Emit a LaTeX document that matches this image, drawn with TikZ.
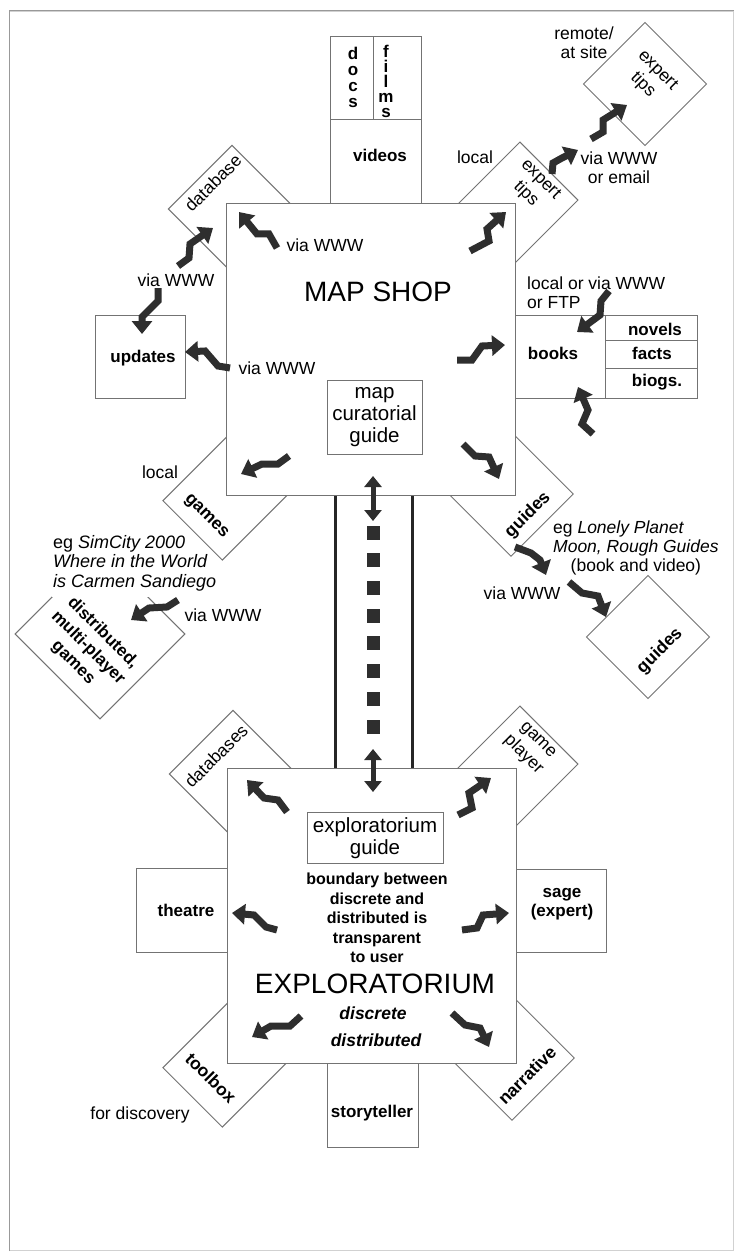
\documentclass[tikz,border=0pt]{standalone}
\usepackage{fontspec}
\setmainfont{Liberation Sans}
\usetikzlibrary{arrows.meta}
\definecolor{boxc}{gray}{0.45}
\definecolor{zzc}{gray}{0.18}
\definecolor{framec}{gray}{0.6}
\newcommand\ftreg{\fontsize{17.5}{19}\selectfont}
\newcommand\ftbold{\fontsize{17}{19}\selectfont\bfseries}
\newcommand\ftrot{\fontsize{17.5}{21}\selectfont}
\newcommand\ftbig{\fontsize{28}{32}\selectfont}
\newcommand\ftguide{\fontsize{20.5}{22}\selectfont}
\begin{document}
\begin{tikzpicture}[x=1pt,y=-1pt,
  bx/.style={draw=boxc,line width=1pt,fill=white,inner sep=0pt,anchor=north west},
  dia/.style={draw=boxc,line width=1pt,fill=white,inner sep=0pt,rotate=45,minimum size=#1pt},
  rdia/.style 2 args={draw=boxc,line width=1pt,fill=white,inner sep=0pt,rotate=45,minimum width=#1pt,minimum height=#2pt},
  lbl/.style={inner sep=0pt,align=center,font=\ftreg},
  blbl/.style={inner sep=0pt,align=center,font=\ftbold},
  rlbl/.style={inner sep=0pt,align=center,font=\ftrot},
  rblbl/.style={inner sep=0pt,align=center,font=\ftrot\bfseries},
  zz/.style={draw=zzc,line width=7pt,line join=miter,-{Triangle[width=20pt,length=13pt]}},
  dbl/.style={draw=zzc,line width=5pt,{Triangle[width=17pt,length=11pt]}-{Triangle[width=17pt,length=11pt]}},
  sqr/.style={fill=zzc,inner sep=0pt,minimum width=13pt,minimum height=14pt},
  conn/.style={draw=black!85,line width=3pt}]
\useasboundingbox (0,0) rectangle (737,1257);
\fill[white] (0,0) rectangle (737,1257);
% frame
\node[draw=framec!45,line width=1pt,inner sep=0pt,anchor=north west,minimum width=724pt,minimum height=1239pt] (frame) at (9,11) {};
\draw[framec,line width=1pt] (frame.south west) -- (frame.north west) -- (frame.north east);

% ---------- diamonds (behind) ----------
\node[dia=120] (dgames) at (100,634) {};
\node[inner xsep=1pt,inner ysep=6pt,fill=white,align=left,font=\fontsize{18}{19.5}\selectfont,anchor=west] (egsim) at (52,563)
  {eg \textit{SimCity 2000}\\\textit{Where in the World}\\\textit{is Carmen Sandiego}};
\node[rdia={100}{84}] (games) at (228,495) {};
\node[dia=90] (db) at (232,209) {};
\node[rdia={100}{82}] (tipsL) at (513.6,206.4) {};
\node[dia=87] (tipsR) at (645,84) {};
\node[dia=88] (guidesA) at (511,494) {};
\node[dia=87] (guidesB) at (648,637) {};
\node[dia=90] (dbs) at (233,774) {};
\node[rdia={100}{82}] (gplayer) at (513.6,770.4) {};
\node[rdia={100}{84}] (toolbox) at (228,1062) {};
\node[dia=88] (narr) at (512,1058) {};

% ---------- main boxes ----------
\node[bx,minimum width=289pt,minimum height=292pt] (shop) at (226,203) {};
\node[bx,minimum width=289pt,minimum height=295pt] (expl) at (227,768) {};

% ---------- side boxes ----------
\node[bx,minimum width=43pt,minimum height=83pt] (docs) at (330,36) {};
\node[bx,minimum width=48pt,minimum height=83pt] (films) at (373,36) {};
\node[bx,minimum width=91pt,minimum height=84pt] (videos) at (330,119) {};
\node[bx,minimum width=90pt,minimum height=83pt] (books) at (515,315) {};
\node[bx,minimum width=92pt,minimum height=25pt] (novels) at (605,315) {};
\node[bx,minimum width=92pt,minimum height=28pt] (facts) at (605,340) {};
\node[bx,minimum width=92pt,minimum height=30pt] (biogs) at (605,368) {};
\node[bx,minimum width=90pt,minimum height=83pt] (updates) at (95,315) {};
\node[bx,minimum width=91pt,minimum height=84pt] (theatre) at (136,868) {};
\node[bx,minimum width=90pt,minimum height=83pt] (sage) at (516,869) {};
\node[bx,minimum width=91pt,minimum height=84pt] (story) at (327,1063) {};
\node[bx,minimum width=95pt,minimum height=74pt] (mapguide) at (327,380) {};
\node[bx,minimum width=136pt,minimum height=51pt] (exguide) at (307,812) {};

% ---------- labels in boxes ----------
\node[inner sep=0pt,align=center,font=\fontsize{17}{16}\selectfont\bfseries] (docsT) at (353,77) {d\\o\\c\\s};
\node[inner sep=0pt,align=center,font=\fontsize{17}{15}\selectfont\bfseries] (filmsT) at (386,81) {f\\i\\l\\m\\s};
\node[blbl] (videosT) at (380,155) {videos};
\node[blbl] (booksT) at (553,353) {books};
\node[blbl] (novelsT) at (655,329) {novels};
\node[blbl] (factsT) at (652,353) {facts};
\node[blbl] (biogsT) at (657,382) {biogs.};
\node[blbl] (updatesT) at (143,358) {updates};
\node[blbl] (theatreT) at (186,910) {theatre};
\node[blbl] (sageT) at (562,904) {sage\\(expert)};
\node[blbl] (storyT) at (372,1113) {storyteller};

\node[inner sep=0pt,font=\ftbig] (shopT) at (378,292) {MAP SHOP};
\node[inner sep=0pt,align=center,font=\ftguide] (mapguideT) at (374.5,417) {map\\curatorial\\guide};
\node[inner sep=0pt,align=center,font=\ftguide] (exguideT) at (375,838) {exploratorium\\guide};
\node[inner sep=0pt,align=center,font=\fontsize{16}{19.5}\selectfont\bfseries] (boundT) at (377,918)
  {boundary between\\discrete and\\distributed is\\transparent\\to user};
\node[inner sep=0pt,font=\ftbig] (explT) at (375,984) {EXPLORATORIUM};
\node[inner sep=0pt,font=\fontsize{17.5}{19}\selectfont\bfseries\itshape] (discT) at (373,1013) {discrete};
\node[inner sep=0pt,font=\fontsize{17.5}{19}\selectfont\bfseries\itshape] (distT) at (376,1040) {distributed};

% ---------- rotated labels ----------
\node[rlbl,rotate=45] (dbT) at (213,183) {database};
\node[rlbl,rotate=-45] (tipsLT) at (533,187) {expert\\tips};
\node[rlbl,rotate=-45] (tipsRT) at (650,78) {expert\\tips};
\node[rblbl,rotate=-45] (gamesT) at (206,517) {games};
\node[rblbl,rotate=-45,font=\fontsize{17}{21}\selectfont\bfseries] (dgamesT) at (88,648) {distributed,\\multi-player\\games};
\node[rblbl,rotate=45] (guidesAT) at (528,515) {guides};
\node[rblbl,rotate=45] (guidesBT) at (660,651) {guides};
\node[rlbl,rotate=45] (dbsT) at (216,756) {databases};
\node[rlbl,rotate=-45] (gplayerT) at (530,748) {game\\player};
\node[rblbl,rotate=-45] (toolboxT) at (211,1078) {toolbox};
\node[rblbl,rotate=45] (narrT) at (527,1075) {narrative};

% ---------- free labels ----------
\node[lbl] (w1) at (325,245) {via WWW};
\node[lbl] (w2) at (277,368) {via WWW};
\node[lbl] (w3) at (176,280) {via WWW};
\node[lbl] (loc1) at (475,157) {local};
\node[lbl] (remote) at (584,43) {remote/\\at site};
\node[lbl] (wemail) at (619,168) {via WWW\\or email};
\node[lbl,align=left,anchor=west] (wftp) at (527,293) {local or via WWW\\or FTP};
\node[lbl] (loc2) at (160,472) {local};
\node[inner sep=0pt,font=\ftreg,anchor=west] (eglp) at (553,548.5)
  {\begin{tabular}{@{}l@{}}eg \textit{Lonely Planet}\\\textit{Moon, Rough Guides}\\\multicolumn{1}{@{}c@{}}{(book and video)}\end{tabular}};
\node[lbl] (w4) at (522,593) {via WWW};
\node[lbl] (w5) at (223,615) {via WWW};
\node[lbl] (disc) at (140,1115) {for discovery};

% ---------- connector between shop and exploratorium ----------
\draw[conn] ([xshift=109pt]shop.south west) -- ([xshift=108pt]expl.north west);
\draw[conn] ([xshift=186pt]shop.south west) -- ([xshift=185pt]expl.north west);
\coordinate (da1) at (373,476);
\coordinate (da2) at (373,521);
\coordinate (db1) at (373,749);
\coordinate (db2) at (373,792);
\draw[dbl] (da1) -- (da2);
\draw[dbl] (db1) -- (db2);
\foreach \i/\yy in {1/533,2/560,3/588,4/616,5/643,6/671,7/699,8/727}
  \node[sqr] (sq\i) at (373,\yy) {};

% ---------- zigzag arrows ----------
% map shop
\draw[zz] (277,248) -- (269,234) -- (257,234) -- (239,212);
\draw[zz] (470,251) -- (489,241) -- (487,229) -- (506,212);
\draw[zz] (457,360) -- (472,360) -- (482,346) -- (505,345);
\draw[zz] (463,444) -- (475,456) -- (489,457) -- (499,479);
\draw[zz] (289,456) -- (278,464) -- (262,464) -- (241,474);
\draw[zz] (230,368) -- (218,366) -- (205,351) -- (185,352);
% outside map shop
\draw[zz] (178,266) -- (189,258) -- (190,244) -- (213,228);
\draw[zz] (158,288) -- (158,301) -- (142,317) -- (142,334);
\draw[zz] (552,174) -- (553,163) -- (562,158) -- (578,150);
\draw[zz] (591,139) -- (603,132) -- (603,120) -- (627,105);
\draw[zz] (609,291) -- (601,301) -- (600,315) -- (577,332);
\draw[zz] (593,434) -- (582,424) -- (588,410) -- (578,387);
\draw[zz] (515,547) -- (531,553) -- (540,560) -- (546,575);
\draw[zz] (569,582) -- (582,593) -- (598,596) -- (606,617);
\draw[zz] (178,600) -- (167,607) -- (149,608) -- (131,620);
% exploratorium
\draw[zz] (287,812) -- (278,800) -- (264,798) -- (247,780);
\draw[zz] (458,815) -- (472,808) -- (469,793) -- (491,778);
\draw[zz] (277,930) -- (266,927) -- (254,915) -- (232,913);
\draw[zz] (462,930) -- (477,928) -- (483,915) -- (509,913);
\draw[zz] (301,1016) -- (290,1026) -- (271,1026) -- (252,1037);
\draw[zz] (452,1013) -- (465,1025) -- (480,1028) -- (489,1047);
\end{tikzpicture}
\end{document}
